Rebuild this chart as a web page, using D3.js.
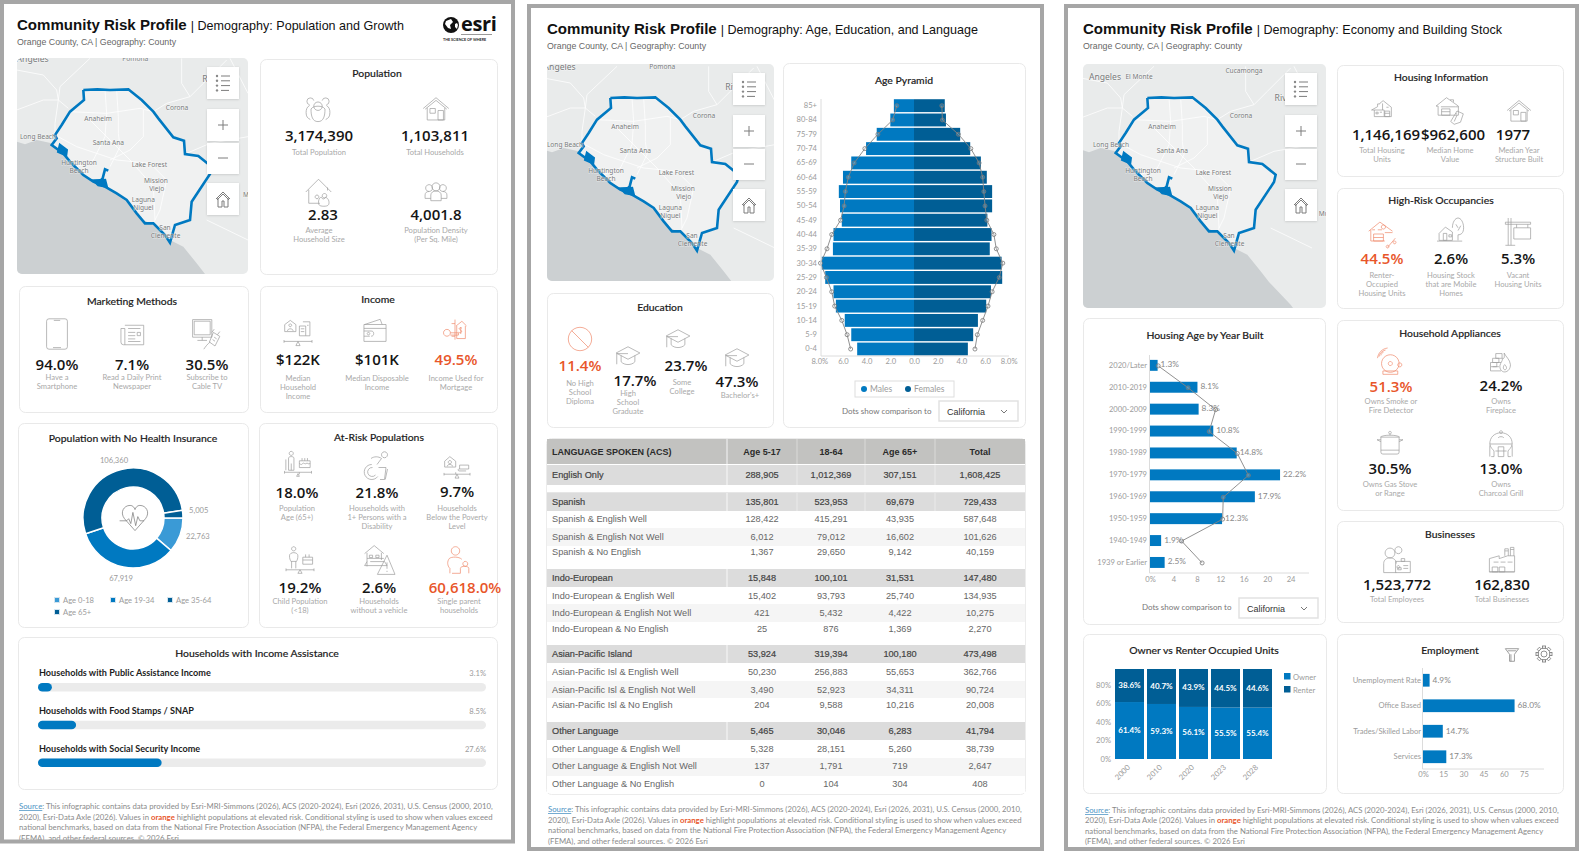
<!DOCTYPE html>
<html>
<head>
<meta charset="utf-8">
<title>Community Risk Profile</title>
<script src="https://cdn.jsdelivr.net/npm/d3@7/dist/d3.min.js"></script>
<style>
  html, body { margin: 0; padding: 0; background: #fff; }
  svg { display: block; }
  text { font-family: 'Lato', sans-serif; }
  .hdr, .hdr text { font-family: 'Liberation Sans', Arial, sans-serif; }
  .tbl text { font-family: 'Liberation Sans', Arial, sans-serif; }
  .panel { fill: #fff; stroke: #e9e9e9; stroke-width: 1; }
  .ptitle { font-size: 10.4px; font-weight: 500; fill: #1c1c1c; text-anchor: middle; stroke: #1c1c1c; stroke-width: .15px; }
  .kval { font-family: 'Open Sans', sans-serif; font-size: 15px; font-weight: 600; fill: #151515; text-anchor: middle; }
  .klab { font-size: 7.6px; fill: #a9a9a9; text-anchor: middle; }
  .tick text, .clab { font-size: 7.6px; fill: #9b9b9b; }
  .domain { stroke: #dcdcdc; }
  .vlab { font-size: 8.3px; fill: #888; }
  .note { font-size: 7.75px; fill: #8a8a8a; }
</style>
</head>
<body>
<script>

// Population sheet values.
var populationKpis = [
  { value: '3,174,390', label: ['Total Population'], icon: 'people' },
  { value: '1,103,811', label: ['Total Households'], icon: 'house' },
  { value: '2.83', label: ['Average', 'Household Size'], icon: 'family' },
  { value: '4,001.8', label: ['Population Density', '(Per Sq. Mile)'], icon: 'group' }
];
var marketingKpis = [
  { value: '94.0%', label: ['Have a', 'Smartphone'], icon: 'phone' },
  { value: '7.1%', label: ['Read a Daily Print', 'Newspaper'], icon: 'news' },
  { value: '30.5%', label: ['Subscribe to', 'Cable TV'], icon: 'cable' }
];
var incomeKpis = [
  { value: '$122K', label: ['Median', 'Household', 'Income'], icon: 'incomeScale' },
  { value: '$101K', label: ['Median Disposable', 'Income'], icon: 'wallet' },
  { value: '49.5%', label: ['Income Used for', 'Mortgage'], icon: 'keyHouse', risk: true }
];
var riskKpis = [
  { value: '18.0%', label: ['Population', 'Age (65+)'], icon: 'elder' },
  { value: '21.8%', label: ['Households with', '1+ Persons with a', 'Disability'], icon: 'wheelchair' },
  { value: '9.7%', label: ['Households', 'Below the Poverty', 'Level'], icon: 'poverty' },
  { value: '19.2%', label: ['Child Population', '(<18)'], icon: 'child' },
  { value: '2.6%', label: ['Households', 'without a vehicle'], icon: 'carWarning' },
  { value: '60,618.0%', label: ['Single parent', 'households'], icon: 'parent', risk: true }
];
var insuranceGroups = ['Age 0-18', 'Age 19-34', 'Age 35-64', 'Age 65+'];
var insuranceValues = [22763, 67919, 106360, 5005];
var assistanceLabels = ['Households with Public Assistance Income', 'Households with Food Stamps / SNAP', 'Households with Social Security Income'];
var assistanceValues = [3.1, 8.5, 27.6];

// Age, education and language sheet values.
var educationKpis = [
  { value: '11.4%', label: ['No High', 'School', 'Diploma'], icon: 'noSign', risk: true },
  { value: '17.7%', label: ['High', 'School', 'Graduate'], icon: 'cap' },
  { value: '23.7%', label: ['Some', 'College'], icon: 'cap' },
  { value: '47.3%', label: ["Bachelor's+"], icon: 'cap' }
];
var ageGroups = ['85+', '80-84', '75-79', '70-74', '65-69', '60-64', '55-59', '50-54', '45-49', '40-44', '35-39', '30-34', '25-29', '20-24', '15-19', '10-14', '5-9', '0-4'];
var malesPct = [1.7, 2.0, 3.15, 4.05, 5.3, 6.0, 6.35, 6.25, 6.1, 6.8, 6.85, 7.8, 7.5, 6.8, 6.6, 5.85, 5.3, 4.8];
var femalesPct = [2.6, 2.7, 3.9, 4.75, 5.65, 6.15, 6.6, 6.6, 6.2, 6.55, 6.4, 7.4, 7.45, 6.5, 6.1, 5.4, 5.0, 4.55];
var malesCaPct = [1.45, 1.8, 3.05, 4.15, 5.05, 5.55, 5.8, 5.9, 6.2, 6.95, 7.35, 7.9, 7.4, 6.95, 6.7, 6.1, 5.65, 5.35];
var femalesCaPct = [2.35, 2.4, 3.75, 4.8, 5.5, 5.8, 5.9, 6.0, 6.15, 6.75, 6.95, 7.5, 7.2, 6.6, 6.25, 5.8, 5.35, 5.15];
var pyramidTicksLeft = [8, 6, 4, 2, 0];
var pyramidTicksRight = [2, 4, 6, 8];
var languageColumns = ['LANGUAGE SPOKEN (ACS)', 'Age 5-17', '18-64', 'Age 65+', 'Total'];
var languageRows = [
  ['English Only', 288905, 1012369, 307151, 1608425],
  ['Spanish', 135801, 523953, 69679, 729433],
  ['Spanish & English Well', 128422, 415291, 43935, 587648],
  ['Spanish & English Not Well', 6012, 79012, 16602, 101626],
  ['Spanish & No English', 1367, 29650, 9142, 40159],
  ['Indo-European', 15848, 100101, 31531, 147480],
  ['Indo-European & English Well', 15402, 93793, 25740, 134935],
  ['Indo-European & English Not Well', 421, 5432, 4422, 10275],
  ['Indo-European & No English', 25, 876, 1369, 2270],
  ['Asian-Pacific Island', 53924, 319394, 100180, 473498],
  ['Asian-Pacific Isl & English Well', 50230, 256883, 55653, 362766],
  ['Asian-Pacific Isl & English Not Well', 3490, 52923, 34311, 90724],
  ['Asian-Pacific Isl & No English', 204, 9588, 10216, 20008],
  ['Other Language', 5465, 30046, 6283, 41794],
  ['Other Language & English Well', 5328, 28151, 5260, 38739],
  ['Other Language & English Not Well', 137, 1791, 719, 2647],
  ['Other Language & No English', 0, 104, 304, 408]
];

// Economy and building stock sheet values.
var housingKpis = [
  { value: '1,146,169', label: ['Total Housing', 'Units'], icon: 'homes' },
  { value: '$962,600', label: ['Median Home', 'Value'], icon: 'homeTag' },
  { value: '1977', label: ['Median Year', 'Structure Built'], icon: 'house' }
];
var occupancyKpis = [
  { value: '44.5%', label: ['Renter-', 'Occupied', 'Housing Units'], icon: 'rentPct', risk: true },
  { value: '2.6%', label: ['Housing Stock', 'that are Mobile', 'Homes'], icon: 'mobile' },
  { value: '5.3%', label: ['Vacant', 'Housing Units'], icon: 'sign' }
];
var applianceKpis = [
  { value: '51.3%', label: ['Owns Smoke or', 'Fire Detector'], icon: 'bell', risk: true },
  { value: '24.2%', label: ['Owns', 'Fireplace'], icon: 'fire' },
  { value: '30.5%', label: ['Owns Gas Stove', 'or Range'], icon: 'pot' },
  { value: '13.0%', label: ['Owns', 'Charcoal Grill'], icon: 'grill' }
];
var businessKpis = [
  { value: '1,523,772', label: ['Total Employees'], icon: 'employee' },
  { value: '162,830', label: ['Total Businesses'], icon: 'factory' }
];
var builtPeriods = ['2020/Later', '2010-2019', '2000-2009', '1990-1999', '1980-1989', '1970-1979', '1960-1969', '1950-1959', '1940-1949', '1939 or Earlier'];
var builtPct = [1.3, 8.1, 8.3, 10.8, 14.8, 22.2, 17.9, 12.3, 1.9, 2.5];
var builtCaPct = [1.4, 6.5, 11.2, 10.1, 14.9, 16.8, 12.5, 12.4, 5.4, 8.9];
var builtTicks = [0, 4, 8, 12, 16, 20, 24];
var tenureYears = ['2000', '2010', '2020', '2023', '2028'];
var ownerPct = [61.4, 59.3, 56.1, 55.5, 55.4];
var renterPct = [38.6, 40.7, 43.9, 44.5, 44.6];
var tenureTicks = [0, 20, 40, 60, 80];
var jobGroups = ['Unemployment Rate', 'Office Based', 'Trades/Skilled Labor', 'Services'];
var jobPct = [4.9, 68.0, 14.7, 17.3];
var jobTicks = [0, 15, 30, 45, 60, 75];

var BLUE = '#0079c1', NAVY = '#005e95', LIGHT = '#3a9ad6', ORANGE = '#e8562a';

var svg = d3.select('body').append('svg').attr('width', 1579).attr('height', 851);

// Outline icons, all on a 40 unit box.
var icons = {
  people: 'M20 10a6 6 0 1 1-.01 0Z M10 20c0 10 2 18 10 18s10-8 10-18c-2-3-6-4-10-4s-8 1-10 4Z M14 8a5 5 0 1 0-6 6 M26 8a5 5 0 1 1 6 6 M8 15c-4 2-5 6-5 10 0 6 2 8 6 10 M32 15c4 2 5 6 5 10 0 6-2 8-6 10',
  house: 'M1 20 20 4 39 20 M4 21 20 8 36 21 M7 19V37H33V19 M11 20h8v7h-8Z M23 23h8v14h-8Z',
  family: 'M1 20 18 3 35 20 M5 17V35H20 M30 18V14 M26 22a3 3 0 1 1-.01 0 M18 34c0-6 3-7 4-7 1 3 4 3 5 0 1 0 5 2 5 7 0 3-1 5-7 5s-7-2-7-5Z M16 24a2.5 2.5 0 1 1-.01 0',
  group: 'M8 8a6 6 0 1 1-.01 0 M20 5a7 7 0 1 1-.01 0 M32 8a6 6 0 1 1-.01 0 M1 32V26c0-4 3-6 7-6 M39 32V26c0-4-3-6-7-6 M11 36V26c0-4 4-7 9-7s9 3 9 7V36Z M1 32H11 M29 32H39',
  phone: 'M10 1h20a3 3 0 0 1 3 3v32a3 3 0 0 1-3 3H10a3 3 0 0 1-3-3V4a3 3 0 0 1 3-3Z M16 3h8 M15 37h10',
  news: 'M9 5H38V35H9 M9 10H3V31a4 4 0 0 0 4 4h2 M9 10V35 M14 10H33 M14 16H25 M14 21H25 M14 26H25 M14 30H33 M28 16h5v5h-5Z',
  cable: 'M2 2H26V24H2Z M4 4H24V21H4Z M14 24V28 M8 28H20 M28 18l8 5-6 12-7-5Z M26 18l3-4 M33 21l3-4 M24 30c-3 2-6 6-8 9 M29 24l3 2 M27 27l3 2',
  incomeScale: 'M9 2l8 6v10H1V8Z M9 7a2 2 0 1 1-.01 0 M5 17c0-4 8-4 8 0 M22 10h9v14h-9Z M27 4h10v20h-6 M24 14h5 M24 18h5 M33 9h2 M0 32H40 M0 30v4 M40 30v4 M20 32l-3 6h6Z',
  wallet: 'M4 10 28 2l3 8 M3 10H37V36H3Z M3 16H37 M3 28H12 M3 20H14c3 0 4 2 4 4s-1 4-4 4 M10 22a2 2 0 1 1-.01 0',
  keyHouse: 'M20 1V36 M14 8H20 M14 30H20 M22 12 32 4l8 8 M23 12V34H38V12 M6 18a6 6 0 1 1-.01 0 M12 24H26v4H12 M32 16c-3-2-6 0-4 2s5 2 3 5c-2 2-5 0-5 0 M30 14V26',
  elder: 'M10 2a3 3 0 1 1-.01 0 M6 12c0-3 8-3 8 0V30H6Z M10 20V30 M2 14V30 M22 16H38V26H22Z M22 20c3 2 3 2 5 0s3 2 5 0 3 2 6 0 M26 16V12 M30 16V12 M34 16V12 M0 33H40 M0 31v4 M40 31v4 M22 33v3 M20 35l-2 4h4Z',
  wheelchair: 'M30 1a4 4 0 1 1-.01 0 M12 10c4-3 10-3 14 0l-6 8 M22 22H32L30 38H24 M13 18a10 10 0 1 0 8 16 M14 22a6 6 0 1 0 4 10 M34 24l-3 14',
  poverty: 'M9 1l9 7v9H1V8Z M9 7a2.5 2.5 0 1 1-.01 0 M5 16c0-4 8-4 8 0 M24 14H38V20H24Z M24 20c-3 0-3 2-1 3H34 M0 28H40 M0 26v4 M40 26v4 M20 28l-3 6h6Z M18 28v-3',
  child: 'M11 1a3 3 0 1 1-.01 0 M5 14c0-6 12-6 12 0 0 4-1 6-2 8H7c-1-2-2-4-2-8Z M8 22V32 M14 22V32 M24 16H38V26H24Z M24 20H38 M28 16V12 M33 16V12 M0 34H40 M0 32v4 M40 32v4 M20 34l-3 5h6Z',
  carWarning: 'M2 12 14 2 26 12 M5 11V28 M23 11V20 M5 18H26 M9 22h18l3 5H2l3-5 M8 14h4v3H8Z M16 14h4v3h-4Z M30 14 18 38H40Z M30 23V31 M30 33.5V35',
  parent: 'M15 1a6 6 0 1 1-.01 0 M6 18c3-3 14-3 18 1 M6 18C3 22 3 28 7 32V39 M29 22a3.5 3.5 0 1 1-.01 0 M22 39V32c0-4 12-4 12 0V39 M10 39H22',
  noSign: 'M20 2a18 18 0 1 1-.01 0Z M7 7 33 33',
  cap: 'M20 6 39 16 20 26 1 16Z M9 20V30C14 36 26 36 31 30V20 M2 17V34 M2 17H20',
  homes: 'M22 3 37 15V32H6V20H1L12 14V9h4V8Z M6 20H24V32 M21 20V8 M9 24h4v3H9Z M25 22H34V32H25Z M25 26H34 M16 24h4 M28 15h4',
  homeTag: 'M15 1 32 13V26H3V13H0Z M7 14H28 M8 17H20V26H8Z M8 21H20 M20 4h5v3 M28 14h4 M30 20l9 4-4 12-9 3-5-4Z M30 26l-4 9 M28 24h2',
  rentPct: 'M1 16 17 3 35 16 M4 14V30H24 M8 20H22V30H8Z M8 25H22 M24 18H35 M22 7a3 3 0 1 1-.01 0 M28 36a2 2 0 1 1-.01 0 M38 30a2 2 0 1 1-.01 0 M28 39 39 26 M6 14h4 M14 14h6',
  mobile: 'M3 22 12 13 22 20V32H3Z M9 22H14V32H9Z M17 24h4v3h-4Z M22 14c0-8 4-14 8-14s8 6 8 14-4 10-8 10V32 M30 14 27 9 M30 18 34 11 M0 33H36',
  sign: 'M6 0V39 M10 0V39 M2 6H38V9H2Z M2 39H16 M18 9V14 M34 9V14 M14 14H38V30H14Z',
  bell: 'M19 10a13 13 0 1 1-.01 0 M19 20a3 3 0 1 1-.01 0 M8 34H30V39H8Z M33 22a3 3 0 1 1-.01 0 M12 3C7 4 3 8 2 13 M15 0C7 1 1 7 0 15 M9 6C7 7 5 9 5 11',
  fire: 'M4 12H16V20H4Z M10 3H22V12H10Z M0 20H12V28H0Z M12 20H20 M0 28V36H20 M4 28H16 M26 2C29 9 37 14 38 24 38 32 33 38 27 38 21 38 17 32 18 26 19 20 23 18 23 12 26 14 27 10 26 2Z M28 34C24 34 23 28 27 24 31 28 32 32 28 34Z',
  pot: 'M6 11H34V34a3 3 0 0 1-3 3H9a3 3 0 0 1-3-3Z M6 31H34 M5 11c4-4 26-4 30 0 M20 2a2 2 0 1 1-.01 0 M20 6V8 M6 15H0l6 3 M34 15h6l-6 3',
  grill: 'M20 1a2 2 0 1 1-.01 0 M4 20C4 10 11 4 20 4S36 10 36 20 M4 20H36 M4 20C5 26 9 28 10 30V38H6 M36 20C35 26 31 28 30 30V38H34 M4 22V38 M36 22V38 M16 24H24V38H16Z M12 30H28 M16 11C18 9 22 9 24 11',
  employee: 'M22 1a5 5 0 1 1-.01 0 M10 3a7 7 0 1 1-.01 0 M1 38V25c0-5 4-8 9-8s9 3 9 8 M1 38H19 M18 22H39V38H18Z M26 18h5v4h-5Z M22 28a2 2 0 1 1-.01 0 M21 34h5v-3h-5Z M29 28H36 M29 32H36',
  factory: 'M2 18 16 14V18L28 14H38V37H2Z M6 30H14V37H6Z M16 30H24V37H16Z M8 23H15 M18 23H25 M28 23H35 M24 14V4H29V14 M32 14V2H37V14 M24 7H29 M32 5H37 M2 37H38',
  funnel: 'M1 2H39L27 18V38H13V18Z M8 8H32 M17 18V38',
  heart: 'M20 38 5 21C-2 12 4 2 13 2 17 2 19 5 20 8 21 5 23 2 27 2 36 2 42 12 35 21Z M-2 24H8L11 21 14 28 17 12 21 31 24 18 27 24H33'
};

// Draw one icon: horizontal centre, top edge, height.
function drawIcon(parent, name, cx, top, h, color) {
  var k = h / 40;
  parent.append('path')
    .attr('d', icons[name])
    .attr('transform', 'translate(' + (cx - 20 * k) + ',' + top + ') scale(' + k + ')')
    .attr('fill', 'none')
    .attr('stroke', color || '#9c9c9c')
    .attr('stroke-width', 0.7)
    .attr('vector-effect', 'non-scaling-stroke');
}

function drawPanel(x, y, w, h, title, titleX, titleY) {
  svg.append('rect').attr('class', 'panel').attr('x', x + 0.5).attr('y', y + 0.5)
    .attr('width', w).attr('height', h).attr('rx', 6);
  if (title) {
    svg.append('text').attr('class', 'ptitle').attr('x', titleX).attr('y', titleY).text(title);
  }
}

// Slots: [icon cx, icon top, icon h, value cx, value baseline, label cx, label baseline].
function drawKpis(kpis, slots) {
  kpis.forEach(function(d, i) {
    var s = slots[i];
    var color = d.risk ? ORANGE : null;
    drawIcon(svg, d.icon, s[0], s[1], s[2], d.risk ? '#ef8a6c' : null);
    svg.append('text').attr('class', 'kval').attr('x', s[3]).attr('y', s[4])
      .style('fill', color).text(d.value);
    d.label.forEach(function(line, j) {
      svg.append('text').attr('class', 'klab').attr('x', s[5]).attr('y', s[6] + j * 9).text(line);
    });
  });
}

function drawHeader(x, y, subject) {
  var g = svg.append('g').attr('class', 'hdr');
  var t = g.append('text').attr('x', x).attr('y', y).attr('fill', '#111');
  t.append('tspan').attr('font-weight', 700).attr('font-size', 15.05).text('Community Risk Profile');
  t.append('tspan').attr('dx', 4).attr('font-size', 12.55).text('| Demography: ' + subject);
  g.append('text').attr('x', x).attr('y', y + 15).attr('font-size', 8.8).attr('fill', '#666')
    .text('Orange County, CA | Geography: County');
}

var noteLines = [
  ['This infographic contains data provided by Esri-MRI-Simmons (2026), ACS (2020-2024), Esri (2026, 2031), U.S. Census (2000, 2010,'],
  ['2020), Esri-Data Axle (2026). Values in ', ' highlight populations at elevated risk. Conditional styling is used to show when values exceed'],
  ['national benchmarks, based on data from the National Fire Protection Association (NFPA), the Federal Emergency Management Agency'],
  ['(FEMA), and other federal sources. \u00a9 2026 Esri']
];

function drawNote(x, baselines) {
  noteLines.forEach(function(parts, i) {
    var t = svg.append('text').attr('class', 'note').attr('x', x).attr('y', baselines[i]);
    if (i === 0) {
      t.append('tspan').attr('fill', '#4d94c4').attr('text-decoration', 'underline').text('Source');
      t.append('tspan').text(': ');
    }
    t.append('tspan').text(parts[0]);
    if (parts[1]) {
      t.append('tspan').attr('fill', ORANGE).attr('font-weight', 700).text('orange');
      t.append('tspan').text(parts[1]);
    }
  });
}

function drawSelect(textX, textY, boxX, boxY) {
  svg.append('text').attr('x', textX).attr('y', textY).attr('font-size', 8).attr('fill', '#777')
    .text('Dots show comparison to');
  svg.append('rect').attr('x', boxX).attr('y', boxY).attr('width', 79).attr('height', 20)
    .attr('fill', '#fff').attr('stroke', '#e2e2e2').attr('stroke-width', 1.5);
  svg.append('text').attr('x', boxX + 8).attr('y', boxY + 14).attr('font-size', 9).attr('fill', '#333')
    .style('font-family', 'Liberation Sans').text('California');
  svg.append('path').attr('fill', 'none').attr('stroke', '#555').attr('stroke-width', 0.8)
    .attr('d', 'M' + (boxX + 62) + ' ' + (boxY + 9) + 'l3 3 3-3');
}

// Map geography, in map pixels at 3x.
var seaOutline = [[-40, 272], [21, 275], [45, 283], [80, 270], [125, 280], [150, 305], [200, 350], [250, 395], [300, 420], [350, 455], [400, 510], [440, 530], [480, 570], [520, 590], [560, 640], [585, 672], [650, 740], [700, 810], [760, 900], [-40, 900]];
var countyOutline = [[220, 120], [262, 118], [300, 120], [355, 118], [395, 150], [430, 185], [445, 205], [490, 262], [522, 272], [525, 312], [565, 318], [605, 350], [600, 372], [545, 455], [540, 510], [495, 525], [480, 578], [465, 555], [430, 520], [405, 520], [380, 490], [350, 450], [320, 430], [285, 410], [250, 395], [220, 375], [180, 335], [160, 310], [125, 285], [140, 265], [135, 255], [155, 225], [180, 185], [222, 150], [220, 120]];
var bayBranch = [[265, 398], [278, 385], [285, 358], [295, 362]];
var bayBlob = [[150, 285], [170, 300], [168, 315], [145, 305]];
var newportBlob = [[252, 392], [285, 390], [290, 410], [265, 405]];
var roadLines = [
  [[20, 60], [100, 75], [140, 120], [145, 150], [175, 175]],
  [[240, 25], [150, 110], [145, 150], [135, 220], [135, 255]],
  [[515, 25], [515, 100], [540, 140], [470, 160], [430, 185]],
  [[650, 30], [580, 100], [540, 140]],
  [[660, 25], [714, 130]],
  [[285, 120], [290, 190], [285, 260], [250, 330], [200, 350]],
  [[320, 120], [325, 200], [325, 250], [330, 290], [300, 350]],
  [[400, 180], [400, 260], [360, 300], [300, 330]],
  [[230, 200], [290, 260], [360, 330], [430, 410], [435, 510]],
  [[135, 255], [200, 290], [320, 330], [420, 340], [470, 390], [450, 480], [430, 520]],
  [[180, 185], [290, 190], [390, 175], [430, 185]],
  [[530, 310], [600, 280], [714, 260]],
  [[590, 510], [714, 570]],
  [[20, 180], [100, 150], [145, 150]]
];
var mapCities = [
  ['Corona', 501, 180], ['Anaheim', 264, 214], ['Santa Ana', 295, 284],
  ['Lake Forest', 418, 352], ['Huntington', 207, 346], ['Beach', 207, 370], ['Mission', 438, 400],
  ['Viejo', 440, 423], ['Laguna', 400, 456], ['Niguel', 400, 480], ['San', 465, 540], ['Clemente', 467, 563]
];

var mapId = 0;
function drawMap(x, y, w, h, offsetX, offsetY, extras) {
  var id = 'map-clip-' + (mapId++);
  svg.append('clipPath').attr('id', id).append('rect')
    .attr('x', x).attr('y', y).attr('width', w).attr('height', h).attr('rx', 5);
  var g = svg.append('g').attr('clip-path', 'url(#' + id + ')');
  var px = d3.scaleLinear().domain([0, 3]).range([offsetX, offsetX + 1]);
  var py = d3.scaleLinear().domain([0, 3]).range([offsetY, offsetY + 1]);
  var line = d3.line().x(function(d) { return px(d[0]); }).y(function(d) { return py(d[1]); });

  g.append('rect').attr('x', x).attr('y', y).attr('width', w).attr('height', h).attr('fill', '#e9ebeb');
  g.append('path').attr('d', line(countyOutline) + 'Z').attr('fill', '#f0f1f1');
  g.selectAll('path.road').data(roadLines).enter().append('path').attr('class', 'road')
    .attr('d', line).attr('fill', 'none').attr('stroke', '#fff').attr('stroke-width', 0.9).attr('stroke-opacity', 0.85);
  g.append('path').attr('d', line(seaOutline) + 'Z').attr('fill', '#ccd0d2');
  g.append('path').attr('d', line(countyOutline)).attr('fill', 'none').attr('stroke', BLUE).attr('stroke-width', 2.6);
  [bayBranch, bayBlob, newportBlob].forEach(function(part, i) {
    g.append('path').attr('d', line(part) + (i ? 'Z' : '')).attr('fill', i ? BLUE : 'none')
      .attr('stroke', BLUE).attr('stroke-width', 2.6);
  });
  g.selectAll('text.city').data(mapCities.concat(extras)).enter().append('text').attr('class', 'city')
    .attr('x', function(d) { return px(d[1]); }).attr('y', function(d) { return py(d[2]); })
    .attr('text-anchor', 'middle').attr('font-size', function(d) { return d[3] || 6.6; }).attr('fill', '#77797a')
    .attr('paint-order', 'stroke').attr('stroke', '#fff').attr('stroke-width', 1).attr('stroke-opacity', 0.5)
    .style('font-family', 'Noto Sans').text(function(d) { return d[0]; });

  // Map controls.
  var cx = x + w - 25;
  [[y + 9, 32], [y + 51, 32], [y + 85, 31], [y + 125, 32]].forEach(function(b) {
    svg.append('rect').attr('x', cx - 16).attr('y', b[0]).attr('width', 32).attr('height', b[1])
      .attr('fill', '#fff').attr('filter', 'url(#btn-shadow)');
  });
  var c = svg.append('g').attr('fill', 'none').attr('stroke', '#7c7c7c').attr('stroke-width', 1);
  d3.range(4).forEach(function(i) {
    c.append('path').attr('d', 'M' + (cx - 2) + ' ' + (y + 18 + i * 4.8) + 'h' + (i === 3 ? 8 : 9));
    c.append('circle').attr('cx', cx - 6).attr('cy', y + 18 + i * 4.8).attr('r', 1.2).attr('fill', '#888').attr('stroke', 'none');
  });
  c.append('path').attr('d', 'M' + (cx - 5) + ' ' + (y + 67) + 'h10M' + cx + ' ' + (y + 62) + 'v10');
  c.append('path').attr('d', 'M' + (cx - 5) + ' ' + (y + 100) + 'h10');
  c.append('path').attr('transform', 'translate(' + (cx - 7) + ',' + (y + 134) + ')')
    .attr('d', 'M0 7 7 0 14 7 M2 6V15H6V9H8V15H12V6 M1 8 7 2 13 8');
}

function styleAxis(g) {
  g.selectAll('.domain').remove();
  g.selectAll('.tick line').remove();
}

svg.append('defs').append('filter').attr('id', 'btn-shadow')
  .attr('x', '-10%').attr('y', '-10%').attr('width', '120%').attr('height', '125%')
  .append('feDropShadow').attr('dx', 0).attr('dy', 0.6).attr('stdDeviation', 0.9)
  .attr('flood-color', '#000').attr('flood-opacity', 0.16);

/* ---------- Sheet one: population and growth ---------- */

drawHeader(17, 30, 'Population and Growth');

// Logo.
svg.append('circle').attr('cx', 451).attr('cy', 25).attr('r', 8).attr('fill', '#111');
svg.append('path').attr('d', 'M446 21l5-2 2 3-3 3 1 4-3-1-3-4Z M455 24l2-1 1 2-1 4-2-2Z').attr('fill', '#fff');
svg.append('text').attr('x', 461).attr('y', 31).attr('font-size', 20).attr('font-weight', 700).attr('fill', '#111')
  .style('font-family', 'Open Sans').style('letter-spacing', '-0.4px').text('esri');
svg.append('rect').attr('x', 461).attr('y', 34).attr('width', 31).attr('height', 0.6).attr('fill', '#555');
svg.append('text').attr('x', 443).attr('y', 41).attr('font-size', 3.7).attr('font-weight', 700).attr('fill', '#222')
  .text('THE SCIENCE OF WHERE');

drawMap(17, 58, 231, 216, 10, 50, [['Long Beach', 84, 266], ['Angeles', 68, 37, 8.6], ['Pomona', 376, 32], ['Riverside', 632, 96, 8.6], ['M', 708, 440]]);

drawPanel(260, 59, 237, 215, 'Population', 377, 77);
drawKpis(populationKpis, [
  [318, 95, 28, 319, 141, 319, 155],
  [436, 95, 27, 435, 141, 435, 155],
  [320, 177, 30, 323, 220, 319, 233],
  [436, 180, 23, 436, 220, 436, 233]
]);

drawPanel(19, 286, 229, 126, 'Marketing Methods', 132, 305);
drawKpis(marketingKpis, [
  [57, 318, 32, 57, 370, 57, 380],
  [132, 322, 26, 132, 370, 132, 380],
  [207, 318, 32, 207, 370, 207, 380]
]);

drawPanel(260, 286, 237, 126, 'Income', 378, 303);
drawKpis(incomeKpis, [
  [298, 319, 28, 298, 365, 298, 381],
  [375, 318, 26, 377, 365, 377, 381],
  [455, 319, 23, 456, 365, 456, 381]
]);

// Donut.
drawPanel(18, 423, 230, 204, 'Population with No Health Insurance', 133, 442);
var insuranceColor = d3.scaleOrdinal().domain(insuranceGroups).range([LIGHT, BLUE, NAVY, NAVY]);
var pie = d3.pie().sort(null).startAngle(Math.PI / 2).endAngle(Math.PI * 2.5);
var arc = d3.arc().innerRadius(31).outerRadius(50);
var insuranceArcs = pie(insuranceValues);
var donut = svg.append('g').attr('transform', 'translate(133,518)');
donut.selectAll('path').data(insuranceArcs).enter().append('path')
  .attr('d', arc).attr('stroke', '#fff').attr('stroke-width', 1.5)
  .attr('fill', function(d, i) { return insuranceColor(insuranceGroups[i]); });
drawIcon(svg, 'heart', 135, 504, 28, '#777');

// Donut value labels sit beside their arcs.
var donutLabels = [[186, 539, 'start'], [121, 581, 'middle'], [114, 463, 'middle'], [189, 513, 'start']];
insuranceValues.forEach(function(v, i) {
  svg.append('text').attr('class', 'clab').attr('x', donutLabels[i][0]).attr('y', donutLabels[i][1])
    .attr('text-anchor', donutLabels[i][2]).text(d3.format(',')(v));
});
var legendCells = [[57, 600], [113, 600], [170, 600], [57, 612]];
insuranceGroups.forEach(function(name, i) {
  var p = legendCells[i];
  svg.append('rect').attr('x', p[0] - 2.5).attr('y', p[1] - 2.5).attr('width', 5).attr('height', 5)
    .attr('fill', insuranceColor(name)).attr('stroke', '#d4e4ef').attr('stroke-width', 1);
  svg.append('text').attr('class', 'clab').attr('x', p[0] + 6).attr('y', p[1] + 2.8).text(name);
});

drawPanel(259, 423, 238, 204, 'At-Risk Populations', 379, 441);
drawKpis(riskKpis, [
  [298, 450, 27, 297, 498, 297, 511],
  [377, 451, 30, 377, 498, 377, 511],
  [457, 456, 26, 457, 497, 457, 511],
  [300, 546, 28, 300, 593, 300, 604],
  [379, 544, 32, 379, 593, 379, 604],
  [459, 546, 28, 465, 593, 459, 604]
]);

// Progress bars.
drawPanel(18, 637, 479, 152, 'Households with Income Assistance', 257, 657);
var assistX = d3.scaleLinear().domain([0, 100]).range([38, 486]);
var assistY = d3.scaleBand().domain(assistanceLabels).range([683, 767]).paddingInner(0.775).paddingOuter(0);
var assistRows = svg.selectAll('g.assist').data(assistanceLabels).enter().append('g').attr('class', 'assist');
assistRows.append('rect').attr('x', assistX(0)).attr('y', function(d) { return assistY(d); })
  .attr('width', assistX(100) - assistX(0)).attr('height', assistY.bandwidth()).attr('rx', 4.5).attr('fill', '#ebebeb');
assistRows.append('rect').attr('x', assistX(0)).attr('y', function(d) { return assistY(d); })
  .attr('width', function(d, i) { return assistX(assistanceValues[i]) - assistX(0); })
  .attr('height', assistY.bandwidth()).attr('rx', 4.5).attr('fill', BLUE);
assistRows.append('text').attr('x', 39).attr('y', function(d) { return assistY(d) - 7; })
  .attr('font-size', 9.1).attr('font-weight', 700).attr('fill', '#1c1c1c').text(function(d) { return d; });
assistRows.append('text').attr('class', 'clab').attr('x', 486).attr('y', function(d) { return assistY(d) - 7; })
  .attr('text-anchor', 'end').text(function(d, i) { return assistanceValues[i] + '%'; });

drawNote(19, [809, 820, 830, 841]);

/* ---------- Sheet two: age, education, language ---------- */

drawHeader(547, 34, 'Age, Education, and Language');
drawMap(547, 64, 227, 217, 537, 58, [['Long Beach', 84, 266], ['Angeles', 68, 37, 8.6], ['Pomona', 376, 32], ['Riverside', 620, 95, 8.6]]);

drawPanel(547, 293, 226, 134, 'Education', 660, 311);
drawKpis(educationKpis, [
  [580, 326, 26, 580, 371, 580, 386],
  [628, 343, 25, 635, 386, 628, 396],
  [678, 326, 25, 686, 371, 682, 385],
  [737, 345, 25, 737, 387, 740, 398]
]);

// Age pyramid.
drawPanel(783, 63, 242, 364, 'Age Pyramid', 904, 84);
var maleX = d3.scaleLinear().domain([0, 8]).range([914, 819.3]);
var femaleX = d3.scaleLinear().domain([0, 8]).range([914, 1008.7]);
var ageY = d3.scaleBand().domain(ageGroups).range([98.5, 356.2]).paddingInner(0.1).paddingOuter(0.05);
var pyramid = svg.append('g');
pyramid.selectAll('rect.male').data(ageGroups).enter().append('rect').attr('class', 'male')
  .attr('x', function(d, i) { return maleX(malesPct[i]); }).attr('y', function(d) { return ageY(d); })
  .attr('width', function(d, i) { return maleX(0) - maleX(malesPct[i]); }).attr('height', ageY.bandwidth()).attr('fill', BLUE);
pyramid.selectAll('rect.female').data(ageGroups).enter().append('rect').attr('class', 'female')
  .attr('x', femaleX(0)).attr('y', function(d) { return ageY(d); })
  .attr('width', function(d, i) { return femaleX(femalesPct[i]) - femaleX(0); }).attr('height', ageY.bandwidth()).attr('fill', NAVY);

// Comparison dots and their lines.
function drawComparison(parent, xValue, yValue, count) {
  var idx = d3.range(count);
  parent.append('path').attr('fill', 'none').attr('stroke', '#858585').attr('stroke-width', 0.9)
    .attr('d', d3.line().x(xValue).y(yValue)(idx));
  parent.selectAll('circle.cmp' + count).data(idx).enter().append('circle')
    .attr('cx', xValue).attr('cy', yValue).attr('r', 2)
    .attr('fill', 'rgba(255,255,255,0.15)').attr('stroke', '#777').attr('stroke-width', 0.8);
}
var ageCenter = function(i) { return ageY(ageGroups[i]) + ageY.bandwidth() / 2; };
drawComparison(pyramid.append('g'), function(i) { return maleX(malesCaPct[i]); }, ageCenter, ageGroups.length);
drawComparison(pyramid.append('g'), function(i) { return femaleX(femalesCaPct[i]); }, ageCenter, ageGroups.length);

pyramid.append('path').attr('fill', 'none').attr('stroke', '#dcdcdc').attr('d', 'M821 99V356H1009');
svg.append('g').attr('transform', 'translate(821,0)').call(d3.axisLeft(ageY).tickSize(0).tickPadding(4)).call(styleAxis);
svg.append('g').attr('transform', 'translate(0,356)')
  .call(d3.axisBottom(maleX).tickValues(pyramidTicksLeft).tickSize(0).tickPadding(3)
    .tickFormat(function(d) { return d === 8 ? '8.0%' : d3.format('.1f')(d); })).call(styleAxis);
svg.append('g').attr('transform', 'translate(0,356)')
  .call(d3.axisBottom(femaleX).tickValues(pyramidTicksRight).tickSize(0).tickPadding(3)
    .tickFormat(function(d) { return d === 8 ? '8.0%' : d3.format('.1f')(d); })).call(styleAxis);

svg.append('rect').attr('x', 855).attr('y', 381).attr('width', 99).attr('height', 16)
  .attr('fill', '#fff').attr('stroke', '#dedede').attr('stroke-width', 1);
[['Males', 864, BLUE], ['Females', 908, NAVY]].forEach(function(d) {
  svg.append('circle').attr('cx', d[1]).attr('cy', 389).attr('r', 3).attr('fill', d[2]);
  svg.append('text').attr('x', d[1] + 6).attr('y', 391.5).attr('font-size', 8.5).attr('fill', '#9b9b9b').text(d[0]);
});
drawSelect(842, 414, 939, 401);

// Language table.
var tableBands = [[465, 485], [493, 511], [511, 528], [528, 546], [546, 569], [569, 587], [587, 604], [604, 622], [622, 645], [645, 663], [663, 681], [681, 698], [698, 722], [722, 740], [740, 758], [758, 776], [776, 793]];
var tableBaselines = [478, 505, 522, 540, 555, 581, 599, 616, 632, 657, 675, 693, 708, 734, 752, 769, 787];
var tableGroupRows = [0, 1, 5, 9, 13];
var columnX = [552, 762, 831, 900, 980];
var dividerX = [727, 797, 865, 935];
var tbl = svg.append('g').attr('class', 'tbl');
tbl.append('rect').attr('x', 546.5).attr('y', 438.5).attr('width', 479).attr('height', 356).attr('rx', 5)
  .attr('fill', '#fff').attr('stroke', '#ececec');
tbl.append('rect').attr('x', 547).attr('y', 439).attr('width', 478).attr('height', 25).attr('fill', '#c2c2c0');
languageRows.forEach(function(row, i) {
  var isGroup = tableGroupRows.indexOf(i) >= 0;
  var shaded = [3, 7, 11, 15].indexOf(i) >= 0;
  tbl.append('rect').attr('x', 547).attr('y', tableBands[i][0]).attr('width', 478)
    .attr('height', tableBands[i][1] - tableBands[i][0])
    .attr('fill', isGroup ? '#dcdcdc' : shaded ? '#f5f5f5' : '#fff');
});
dividerX.forEach(function(x, i) {
  tbl.append('path').attr('d', 'M' + x + ' 439V511').attr('stroke', '#fff').attr('stroke-width', i ? 0.4 : 0.8);
});
dividerX.forEach(function(x, i) {
  tbl.append('path').attr('d', 'M' + x + ' 439V464').attr('stroke', i ? '#cfcfcd' : '#dedede').attr('stroke-width', 0.8);
});
tableGroupRows.slice(2).forEach(function(r) {
  tbl.append('path').attr('d', 'M727 ' + tableBands[r][0] + 'V' + tableBands[r][1]).attr('stroke', '#fff').attr('stroke-width', 0.8);
});
tbl.append('path').attr('d', 'M547 492.5H1025').attr('stroke', '#e6e6e6');
languageColumns.forEach(function(name, c) {
  tbl.append('text').attr('x', columnX[c]).attr('y', 455).attr('font-size', 9).attr('font-weight', 700)
    .attr('fill', '#2a2a2a').attr('text-anchor', c ? 'middle' : 'start').text(name);
});
languageRows.forEach(function(row, i) {
  var isGroup = tableGroupRows.indexOf(i) >= 0;
  row.forEach(function(v, c) {
    tbl.append('text').attr('x', columnX[c]).attr('y', tableBaselines[i]).attr('font-size', 9.2)
      .attr('fill', isGroup ? '#444' : '#666')
      .attr('stroke', isGroup ? '#444' : 'none').attr('stroke-width', 0.2)
      .attr('text-anchor', c ? 'middle' : 'start').text(c ? d3.format(',')(v) : v);
  });
});

drawNote(548, [812, 823, 833, 844]);

/* ---------- Sheet three: economy and building stock ---------- */

drawHeader(1083, 34, 'Economy and Building Stock');
drawMap(1083, 64, 243, 244, 1074, 58, [['Long Beach', 111, 266], ['Angeles', 93, 66, 8.6], ['El Monte', 195, 62], ['Cucamonga', 510, 45], ['Riverside', 657, 128, 8.6], ['Murrieta', 775, 475]]);

drawPanel(1337, 65, 226, 111, 'Housing Information', 1441, 81);
drawKpis(housingKpis, [
  [1382, 99, 22, 1386, 140, 1382, 153],
  [1450, 97, 28, 1453, 140, 1450, 153],
  [1519, 98, 25, 1513, 140, 1519, 153]
]);

drawPanel(1337, 188, 226, 120, 'High-Risk Occupancies', 1441, 204);
drawKpis(occupancyKpis, [
  [1382, 220, 28, 1382, 264, 1382, 278],
  [1451, 218, 28, 1451, 264, 1451, 278],
  [1518, 218, 28, 1518, 264, 1518, 278]
]);

drawPanel(1337, 320, 226, 190, 'Household Appliances', 1450, 337);
drawKpis(applianceKpis, [
  [1391, 348, 27, 1391, 392, 1391, 404],
  [1501, 352, 21, 1501, 391, 1501, 404],
  [1390, 430, 26, 1390, 474, 1390, 487],
  [1501, 430, 28, 1501, 474, 1501, 487]
]);

drawPanel(1337, 521, 226, 101, 'Businesses', 1450, 538);
drawKpis(businessKpis, [
  [1397, 546, 28, 1397, 590, 1397, 602],
  [1502, 546, 28, 1502, 590, 1502, 602]
]);

// Housing age bars.
drawPanel(1083, 318, 242, 306, 'Housing Age by Year Built', 1205, 339);
var builtX = d3.scaleLinear().domain([0, 24]).range([1150, 1290.6]);
var builtY = d3.scaleBand().domain(builtPeriods).range([354.4, 573.4]).paddingInner(0.5).paddingOuter(0.25);
var built = svg.append('g');
built.selectAll('rect').data(builtPeriods).enter().append('rect')
  .attr('x', builtX(0)).attr('y', function(d) { return builtY(d); })
  .attr('width', function(d, i) { return builtX(builtPct[i]) - builtX(0); })
  .attr('height', builtY.bandwidth()).attr('fill', BLUE);
built.selectAll('text').data(builtPeriods).enter().append('text').attr('class', 'vlab')
  .attr('x', function(d, i) { return builtX(builtPct[i]) + 3; })
  .attr('y', function(d) { return builtY(d) + builtY.bandwidth() / 2 + 2; })
  .text(function(d, i) { return builtPct[i] + '%'; });
drawComparison(built.append('g'), function(i) { return builtX(builtCaPct[i]); },
  function(i) { return builtY(builtPeriods[i]) + builtY.bandwidth() / 2 + 0.5; }, builtPeriods.length);
svg.append('path').attr('fill', 'none').attr('stroke', '#dcdcdc').attr('d', 'M1149.5 355V573H1309');
svg.append('g').attr('transform', 'translate(1150,0)').call(d3.axisLeft(builtY).tickSize(0).tickPadding(3)).call(styleAxis);
svg.append('g').attr('transform', 'translate(0,573)')
  .call(d3.axisBottom(builtX).tickValues(builtTicks).tickSize(0).tickPadding(4)
    .tickFormat(function(d) { return d ? d : '0%'; })).call(styleAxis);
drawSelect(1142, 610, 1239, 598);

// Owner vs renter stack. The scale stops short of 100%, so the renter bars are cut at the top.
drawPanel(1083, 634, 243, 159, 'Owner vs Renter Occupied Units', 1204, 654);
var tenureX = d3.scaleBand().domain(tenureYears).range([1113.5, 1273.5]).paddingInner(0.094).paddingOuter(0.047);
var tenureY = d3.scaleLinear().domain([0, 97]).range([759, 669]).clamp(true);
var tenure = svg.append('g');
tenure.selectAll('rect.owner').data(tenureYears).enter().append('rect').attr('class', 'owner')
  .attr('x', function(d) { return tenureX(d); }).attr('y', function(d, i) { return tenureY(ownerPct[i]); })
  .attr('width', tenureX.bandwidth()).attr('height', function(d, i) { return tenureY(0) - tenureY(ownerPct[i]); }).attr('fill', BLUE);
tenure.selectAll('rect.renter').data(tenureYears).enter().append('rect').attr('class', 'renter')
  .attr('x', function(d) { return tenureX(d); }).attr('y', function(d, i) { return tenureY(ownerPct[i] + renterPct[i]); })
  .attr('width', tenureX.bandwidth()).attr('height', function(d, i) { return tenureY(ownerPct[i]) - tenureY(ownerPct[i] + renterPct[i]); }).attr('fill', NAVY);
tenureYears.forEach(function(year, i) {
  var cx = tenureX(year) + tenureX.bandwidth() / 2;
  var ownerMid = (tenureY(0) + tenureY(ownerPct[i])) / 2;
  var renterMid = (tenureY(ownerPct[i]) + tenureY(ownerPct[i] + renterPct[i])) / 2;
  [[ownerMid, ownerPct[i]], [renterMid, renterPct[i]]].forEach(function(p) {
    tenure.append('text').attr('x', cx).attr('y', p[0] + 2.5).attr('text-anchor', 'middle')
      .attr('font-size', 8).attr('font-weight', 700).attr('fill', '#fff').text(p[1].toFixed(1) + '%');
  });
  tenure.append('text').attr('class', 'clab').attr('text-anchor', 'end')
    .attr('transform', 'translate(' + (cx + 1) + ',768) rotate(-45)').text(year);
});
svg.append('g').attr('transform', 'translate(1112,0)')
  .call(d3.axisLeft(tenureY).tickValues(tenureTicks).tickSize(0).tickPadding(1)
    .tickFormat(function(d) { return d + '%'; })).call(styleAxis);
[['Owner', BLUE, 676], ['Renter', NAVY, 689]].forEach(function(d) {
  svg.append('rect').attr('x', 1284).attr('y', d[2] - 3).attr('width', 6.5).attr('height', 6.5).attr('fill', d[1]);
  svg.append('text').attr('class', 'clab').attr('x', 1293).attr('y', d[2] + 3.5).text(d[0]);
});

// Employment bars.
drawPanel(1337, 634, 226, 159, 'Employment', 1450, 654);
drawIcon(svg, 'funnel', 1512, 648, 14, '#777');
var gear = svg.append('g').attr('transform', 'translate(1544,654)').attr('fill', 'none').attr('stroke', '#777').attr('stroke-width', 0.8);
gear.append('circle').attr('r', 3);
gear.append('circle').attr('r', 6);
d3.range(8).forEach(function(i) {
  gear.append('rect').attr('x', -1.6).attr('y', -8).attr('width', 3.2).attr('height', 2.2)
    .attr('transform', 'rotate(' + (i * 45) + ')').attr('fill', '#fff');
});
var jobX = d3.scaleLinear().domain([0, 75]).range([1423, 1524]);
var jobY = d3.scaleBand().domain(jobGroups).range([667.5, 769.5]).paddingInner(0.5).paddingOuter(0.25);
var jobs = svg.append('g');
jobs.selectAll('rect').data(jobGroups).enter().append('rect')
  .attr('x', jobX(0)).attr('y', function(d) { return jobY(d); })
  .attr('width', function(d, i) { return jobX(jobPct[i]) - jobX(0); })
  .attr('height', jobY.bandwidth()).attr('fill', BLUE);
jobs.selectAll('text').data(jobGroups).enter().append('text').attr('class', 'vlab')
  .attr('x', function(d, i) { return jobX(jobPct[i]) + 3; })
  .attr('y', function(d) { return jobY(d) + jobY.bandwidth() / 2 + 2.5; })
  .text(function(d, i) { return jobPct[i].toFixed(1) + '%'; });
svg.append('path').attr('fill', 'none').attr('stroke', '#dcdcdc').attr('d', 'M1422.5 668V769H1544');
svg.append('g').attr('transform', 'translate(1422,0)').call(d3.axisLeft(jobY).tickSize(0).tickPadding(1)).call(styleAxis);
svg.append('g').attr('transform', 'translate(0,769)')
  .call(d3.axisBottom(jobX).tickValues(jobTicks).tickSize(0).tickPadding(3)
    .tickFormat(function(d) { return d ? d : '0%'; })).call(styleAxis);

drawNote(1085, [813, 823, 834, 844]);

// Grey sheet frames go last so they trim anything running off a sheet.
[[2, 2, 511, 839.5], [529, 6, 513, 843], [1066, 6, 511, 843]].forEach(function(f) {
  svg.append('rect').attr('x', f[0]).attr('y', f[1]).attr('width', f[2]).attr('height', f[3])
    .attr('fill', 'none').attr('stroke', '#a6a6a6').attr('stroke-width', 4);
});

</script>
</body>
</html>
